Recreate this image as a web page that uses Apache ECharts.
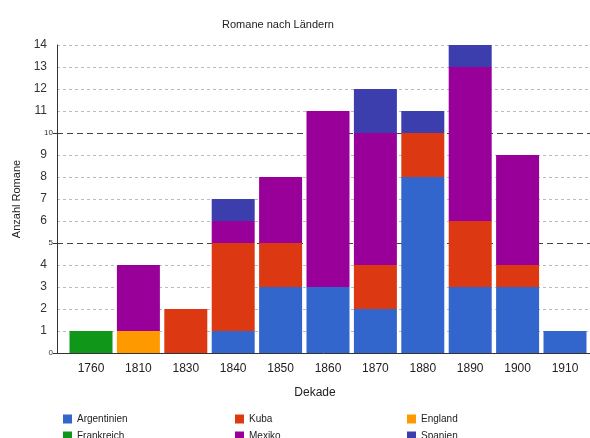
<!DOCTYPE html>
<html>
<head>
<meta charset="utf-8">
<script src="https://cdn.jsdelivr.net/npm/echarts@6/dist/echarts.min.js"></script>
<style>
  html, body { margin: 0; padding: 0; background: #fff; }
  #chart { width: 590px; height: 438px; }
</style>
</head>
<body>
<div id="chart"></div>
<script>
// Decades and novel counts per country
const decades = ['1760', '1810', '1830', '1840', '1850', '1860', '1870', '1880', '1890', '1900', '1910'];
const argentinien = [0, 0, 0, 1, 3, 3, 2, 8, 3, 3, 1];
const kuba        = [0, 0, 2, 4, 2, 0, 2, 2, 3, 1, 0];
const england     = [0, 1, 0, 0, 0, 0, 0, 0, 0, 0, 0];
const frankreich  = [1, 0, 0, 0, 0, 0, 0, 0, 0, 0, 0];
const mexiko      = [0, 3, 0, 1, 3, 8, 6, 0, 7, 5, 0];
const spanien     = [0, 0, 0, 1, 0, 0, 2, 1, 1, 0, 0];
const yTicks = [0, 1, 2, 3, 4, 5, 6, 7, 8, 9, 10, 11, 12, 13, 14];

const FONT = '"Liberation Sans", Arial, sans-serif';

const seriesDefs = [
  { name: 'Argentinien', data: argentinien, color: '#3366cc' },
  { name: 'Kuba',        data: kuba,        color: '#dc3912' },
  { name: 'England',     data: england,     color: '#ff9900' },
  { name: 'Frankreich',  data: frankreich,  color: '#109618' },
  { name: 'Mexiko',      data: mexiko,      color: '#990099' },
  { name: 'Spanien',     data: spanien,     color: '#3b3eac' }
];

// light grid lines everywhere except the major values (0, 5, 10)
const minorColors = yTicks.map(v => v % 5 === 0 ? 'rgba(0,0,0,0)' : '#bbbbbb');

const chart = echarts.init(document.getElementById('chart'), null, { renderer: 'canvas' });

const legendBase = {
  orient: 'vertical', top: 414, height: 40, padding: 0, itemGap: 7,
  itemWidth: 9, itemHeight: 9, icon: 'rect',
  textStyle: { fontFamily: FONT, fontSize: 10, color: '#222' }
};

chart.setOption({
  animation: false,
  textStyle: { fontFamily: FONT },
  title: {
    text: 'Romane nach Ländern',
    left: 273, top: 14, textAlign: 'center',
    textStyle: { fontFamily: FONT, fontSize: 11, fontWeight: 'normal', color: '#222' }
  },
  legend: [
    Object.assign({ left: 63, data: ['Argentinien', 'Frankreich'] }, legendBase),
    Object.assign({ left: 235, data: ['Kuba', 'Mexiko'] }, legendBase),
    Object.assign({ left: 407, data: ['England', 'Spanien'] }, legendBase)
  ],
  grid: [
    // full plot area: y axis, light grid lines, baseline
    { left: 57, right: 0, top: 45, height: 308 },
    // bar area, inset so the first band starts a little right of the axis
    { left: 67.3, right: 1.3, top: 45, height: 308 },
    // lower part of the plot (0..10) for the major ticks and lines
    { left: 57, right: 0, top: 133, height: 220 }
  ],
  xAxis: [
    {
      type: 'value', gridIndex: 0, min: 0, max: 1,
      axisLine: { show: true, lineStyle: { color: '#333', width: 1 } },
      axisTick: { show: false }, axisLabel: { show: false }, splitLine: { show: false },
      name: 'Dekade', nameLocation: 'middle', nameGap: 34,
      nameTextStyle: { fontFamily: FONT, fontSize: 12, color: '#222', padding: [0, 17, 0, 0] }
    },
    {
      type: 'category', gridIndex: 1, data: decades,
      axisLine: { show: false }, axisTick: { show: false },
      axisLabel: { margin: 10, fontFamily: FONT, fontSize: 12, color: '#222' }
    },
    {
      type: 'value', gridIndex: 2, min: 0, max: 1, show: false
    }
  ],
  yAxis: [
    {
      type: 'value', gridIndex: 0, min: 0, max: 14, interval: 1,
      axisLine: { show: true, lineStyle: { color: '#333', width: 1 } },
      axisTick: { show: false },
      axisLabel: {
        margin: 4,
        formatter: v => (v % 5 === 0 ? '{s|' + v + '}' : '{b|' + v + '}'),
        rich: {
          s: { fontFamily: FONT, fontSize: 8, color: '#333' },
          b: { fontFamily: FONT, fontSize: 12, color: '#333', padding: [0, 6, 0, 0] }
        }
      },
      splitLine: { show: true, lineStyle: { color: minorColors, type: [3, 3], width: 1 } },
      name: 'Anzahl Romane', nameLocation: 'middle', nameGap: 31, nameRotate: 90,
      nameTextStyle: { fontFamily: FONT, fontSize: 11, color: '#222' }
    },
    {
      type: 'value', gridIndex: 1, min: 0, max: 14, show: false
    },
    {
      type: 'value', gridIndex: 2, min: 0, max: 10, interval: 5,
      axisLine: { show: false },
      axisTick: { show: true, length: 4, lineStyle: { color: '#333' } },
      axisLabel: { show: false },
      splitLine: { show: true, lineStyle: { color: '#444', type: [6, 4], width: 1 } }
    }
  ],
  series: seriesDefs.map(s => ({
    name: s.name,
    type: 'bar',
    stack: 'total',
    xAxisIndex: 1,
    yAxisIndex: 1,
    barWidth: 43,
    data: s.data,
    itemStyle: { color: s.color },
    emphasis: { disabled: true }
  }))
});
</script>
</body>
</html>
